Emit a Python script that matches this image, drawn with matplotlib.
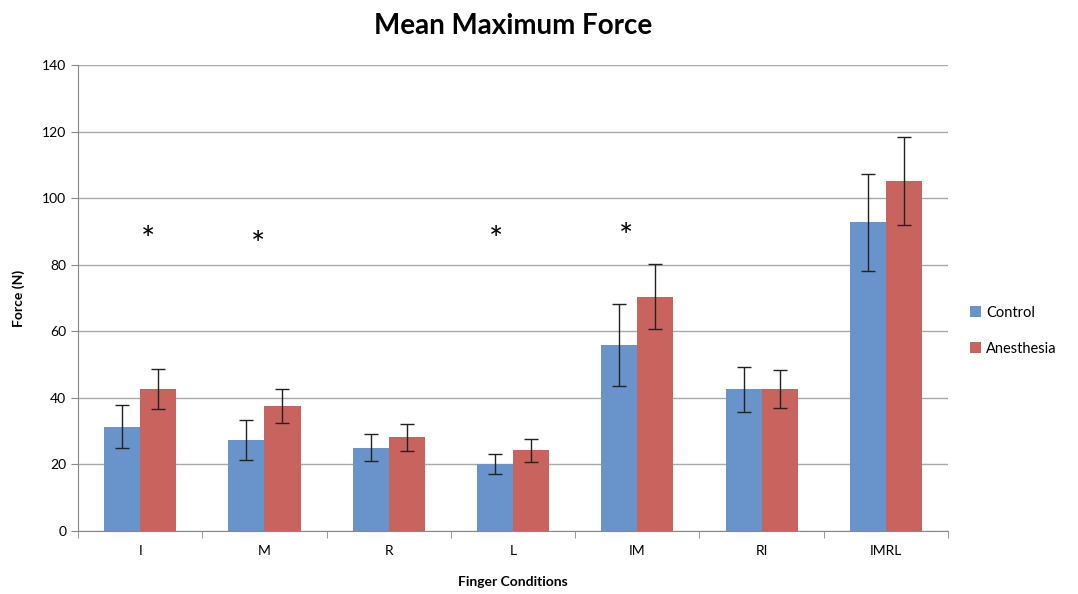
import numpy as np
import matplotlib
matplotlib.use("Agg")
from matplotlib import pyplot as plt

categories = ["I", "M", "R", "L", "IM", "RI", "IMRL"]
control = [31.4, 27.3, 25.0, 20.2, 55.9, 42.6, 92.7]
control_err = [6.5, 6.1, 4.0, 3.0, 12.3, 6.8, 14.7]
anesthesia = [42.6, 37.5, 28.1, 24.2, 70.4, 42.7, 105.1]
anesthesia_err = [6.0, 5.1, 4.2, 3.5, 9.8, 5.6, 13.2]
star_x = [0.06, 0.95, 2.86, 3.91]
star_y = [87.0, 85.5, 87.0, 88.0]

plt.rcParams['font.family'] = ['Lato', 'DejaVu Sans']

fig = plt.figure(figsize=(10.78, 5.94), dpi=100)
ax = fig.add_axes([0.0724, 0.106, 0.807, 0.7846])

x = np.arange(len(categories))
w = 0.29
ekw = dict(ecolor='#222222', elinewidth=1.0, capsize=5, capthick=1.0)
ax.bar(x - w/2, control, w, color='#6894cb', label='Control', zorder=3,
       yerr=control_err, error_kw=ekw)
ax.bar(x + w/2, anesthesia, w, color='#c8635d', label='Anesthesia', zorder=3,
       yerr=anesthesia_err, error_kw=ekw)

for sx, sy in zip(star_x, star_y):
    ax.text(sx, sy, "*", ha='center', va='center', fontsize=24, color='black')

ax.set_xlim(-0.5, len(categories) - 0.5)
ax.set_ylim(0, 140)
ax.set_yticks(np.arange(0, 141, 20))
ax.set_xticks(x)
ax.set_xticklabels(categories, fontsize=10)
ax.tick_params(axis='x', length=0, pad=10)
ax.set_xticks(np.arange(-0.5, len(categories)), minor=True)
ax.tick_params(axis='x', which='minor', length=5, direction='out', color='#888888')
ax.tick_params(axis='y', length=5, direction='out', color='#888888', labelsize=10)
ax.yaxis.grid(True, color='#aaaaaa', lw=1)
ax.set_axisbelow(True)
for s in ['top', 'right']:
    ax.spines[s].set_visible(False)
for s in ['left', 'bottom']:
    ax.spines[s].set_color('#888888')

ax.set_title("Mean Maximum Force", fontsize=20, fontweight='bold', pad=22)
ax.set_xlabel("Finger Conditions", fontsize=10, fontweight='bold', labelpad=14)
ax.set_ylabel("Force (N)", fontsize=10, fontweight='bold', labelpad=12)

ax.legend(loc='center left', bbox_to_anchor=(1.01, 0.43), frameon=False, fontsize=10.5,
          handlelength=0.8, handleheight=0.8, handletextpad=0.3, labelspacing=1.5)

fig.savefig("out.png", dpi=100)
